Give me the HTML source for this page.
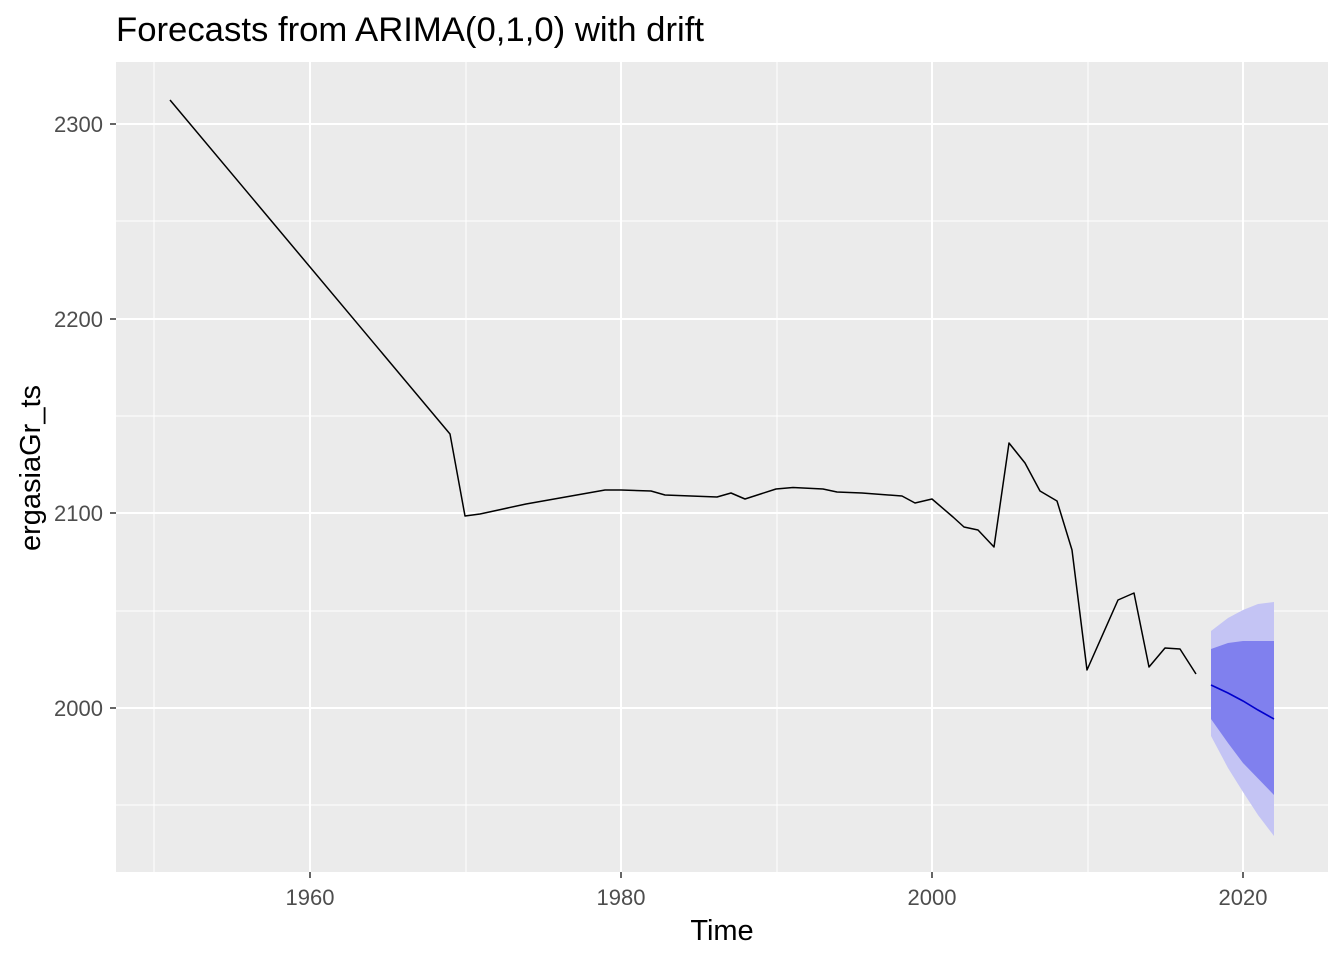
<!DOCTYPE html>
<html><head><style>body{margin:0;background:#fff}</style></head><body>
<svg width="1344" height="960" xmlns="http://www.w3.org/2000/svg" font-family="Liberation Sans, sans-serif">
<rect width="1344" height="960" fill="#fff"/>
<rect x="116" y="62" width="1212" height="810" fill="#ebebeb"/>
<g stroke="#fff" stroke-width="1">
<line x1="154" y1="62" x2="154" y2="872"/><line x1="466" y1="62" x2="466" y2="872"/><line x1="777" y1="62" x2="777" y2="872"/><line x1="1088" y1="62" x2="1088" y2="872"/>
<line x1="116" y1="221" x2="1328" y2="221"/><line x1="116" y1="416" x2="1328" y2="416"/><line x1="116" y1="611" x2="1328" y2="611"/><line x1="116" y1="805" x2="1328" y2="805"/>
</g>
<g stroke="#fff" stroke-width="2">
<line x1="310" y1="62" x2="310" y2="872"/><line x1="621" y1="62" x2="621" y2="872"/><line x1="932" y1="62" x2="932" y2="872"/><line x1="1243" y1="62" x2="1243" y2="872"/>
<line x1="116" y1="124" x2="1328" y2="124"/><line x1="116" y1="319" x2="1328" y2="319"/><line x1="116" y1="513" x2="1328" y2="513"/><line x1="116" y1="708" x2="1328" y2="708"/>
</g>
<polygon fill="#c4c4f4" points="1211,631 1228,618 1243,610 1258,604 1274,602 1274,836 1258,815 1243,792 1228,768 1211,736"/>
<polygon fill="#8080ee" points="1211,649 1228,643 1243,641 1274,641 1274,795 1243,763 1228,743 1211,719"/>
<polyline fill="none" stroke="#0000cc" stroke-width="1.6" points="1211,685 1228,693 1243,701 1258,710 1274,719"/>
<polyline fill="none" stroke="#000" stroke-width="1.5" stroke-linejoin="round" points="170,100 450,434 465,516 480,514 526,504 605,490 621,490 651,491 665,495 691,496 717,497 731,493 745,499 776,489 793,487.5 823,489 837,492 862,493 902,496 915,503 932,499 953,517 964,527 978,530 994,547 1009,443 1025,463 1040,491 1057,501 1072,550 1087,670 1118,600 1134,593 1149,667 1165,648 1180,649 1196,674"/>
<g stroke="#333" stroke-width="1.5">
<line x1="310" y1="872" x2="310" y2="878"/><line x1="621" y1="872" x2="621" y2="878"/><line x1="932" y1="872" x2="932" y2="878"/><line x1="1243" y1="872" x2="1243" y2="878"/>
<line x1="110" y1="124" x2="116" y2="124"/><line x1="110" y1="319" x2="116" y2="319"/><line x1="110" y1="513" x2="116" y2="513"/><line x1="110" y1="708" x2="116" y2="708"/>
</g>
<g fill="#4d4d4d" font-size="22" text-anchor="middle">
<text x="310" y="905">1960</text><text x="621" y="905">1980</text><text x="932" y="905">2000</text><text x="1243" y="905">2020</text>
</g>
<g fill="#4d4d4d" font-size="22" text-anchor="end">
<text x="103" y="132">2300</text><text x="103" y="327">2200</text><text x="103" y="521">2100</text><text x="103" y="716">2000</text>
</g>
<text x="722" y="940" font-size="29" text-anchor="middle" fill="#000">Time</text>
<text transform="translate(40,468) rotate(-90)" font-size="29" text-anchor="middle" fill="#000">ergasiaGr_ts</text>
<text x="116" y="41" font-size="34" fill="#000" textLength="588" lengthAdjust="spacingAndGlyphs">Forecasts from ARIMA(0,1,0) with drift</text>
</svg>
</body></html>
